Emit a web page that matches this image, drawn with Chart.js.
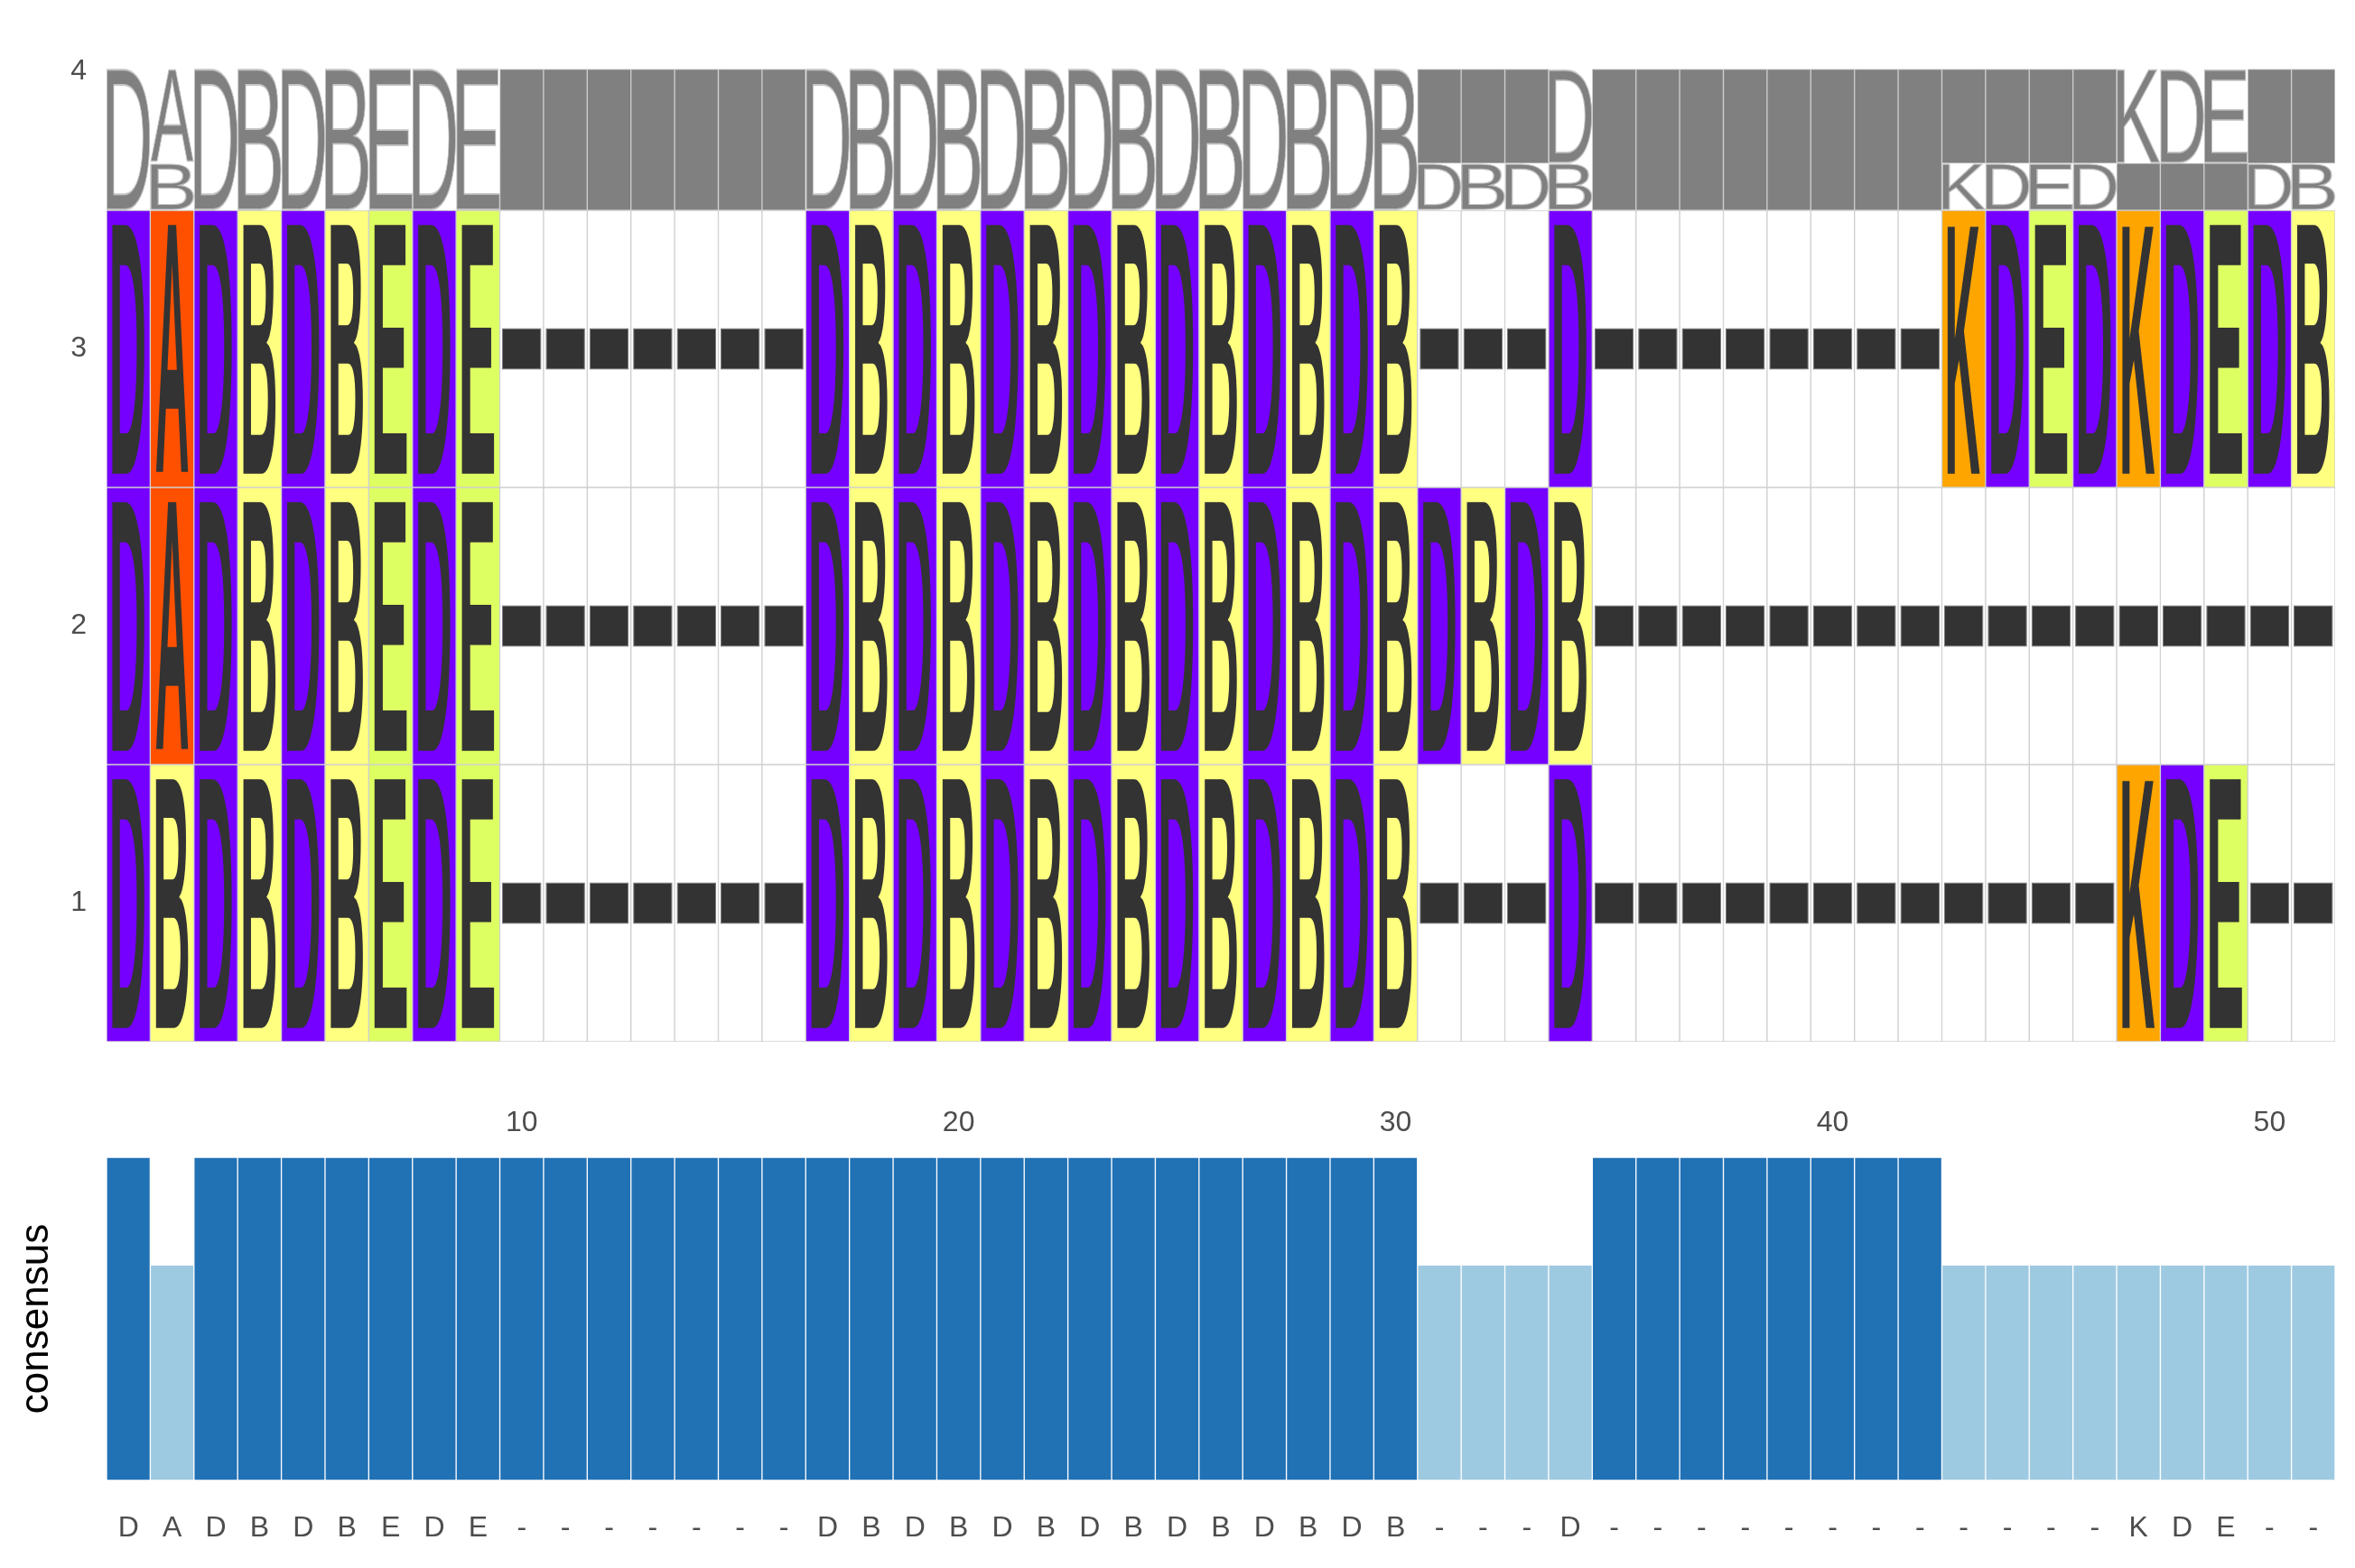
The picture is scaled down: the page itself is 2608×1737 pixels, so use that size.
<!DOCTYPE html>
<html>
<head>
<meta charset="utf-8">
<script src="https://cdn.jsdelivr.net/npm/chart.js@4.4.1/dist/chart.umd.min.js"></script>
<style>
html,body{margin:0;padding:0;background:#fff;}
#wrap{position:relative;width:2608px;height:1737px;overflow:hidden;background:#fff;}
canvas{position:absolute;left:0;}
#topChart{top:0;}
#botChart{top:1160px;}
</style>
</head>
<body>
<div id="wrap">
<canvas id="topChart" width="2608" height="1300"></canvas>
<canvas id="botChart" width="2608" height="577"></canvas>
</div>
<script>
// ---- data ----
const positions = ['1','2','3','4','5','6','7','8','9','10','11','12','13','14','15','16','17','18','19','20',
  '21','22','23','24','25','26','27','28','29','30','31','32','33','34','35','36','37','38','39','40',
  '41','42','43','44','45','46','47','48','49','50','51'];

const seqRow1 = ['D','B','D','B','D','B','E','D','E','-','-','-','-','-','-','-',
  'D','B','D','B','D','B','D','B','D','B','D','B','D','B','-','-','-','D',
  '-','-','-','-','-','-','-','-','-','-','-','-','K','D','E','-','-'];
const seqRow2 = ['D','A','D','B','D','B','E','D','E','-','-','-','-','-','-','-',
  'D','B','D','B','D','B','D','B','D','B','D','B','D','B','D','B','D','B',
  '-','-','-','-','-','-','-','-','-','-','-','-','-','-','-','-','-'];
const seqRow3 = ['D','A','D','B','D','B','E','D','E','-','-','-','-','-','-','-',
  'D','B','D','B','D','B','D','B','D','B','D','B','D','B','-','-','-','D',
  '-','-','-','-','-','-','-','-','K','D','E','D','K','D','E','D','B'];

const rowTicks = [1, 2, 3, 4];
const xTickPositions = [10, 20, 30, 40, 50];

const consensusLabels = ['D','A','D','B','D','B','E','D','E','-','-','-','-','-','-','-',
  'D','B','D','B','D','B','D','B','D','B','D','B','D','B','-','-','-','D',
  '-','-','-','-','-','-','-','-','-','-','-','-','K','D','E','-','-'];
const consensusValues = [1,0.667,1,1,1,1,1,1,1,1,1,1,1,1,1,1,1,1,1,1,1,1,1,1,1,1,1,1,1,1,
  0.667,0.667,0.667,0.667,1,1,1,1,1,1,1,1,
  0.667,0.667,0.667,0.667,0.667,0.667,0.667,0.667,0.667];

// ---- styles ----
const letterColors = {D:'#7500FF', A:'#FF5000', B:'#FFFF80', E:'#DEFF62', K:'#FFA500', '-':'#FFFFFF'};
const FONT = '"Liberation Sans", Arial, Helvetica, sans-serif';
const TEXT_GREY = '#4d4d4d';
const LOGO_H = 0.51;
const rows = [seqRow1, seqRow2, seqRow3];

Chart.defaults.font.family = FONT;
Chart.defaults.animation = false;

// logo stacks (built from the sequences)
const logoStacks = positions.map((p, i) => {
  const counts = {};
  rows.forEach(s => { counts[s[i]] = (counts[s[i]] || 0) + 1; });
  const entries = Object.entries(counts).sort((a, b) => a[1] - b[1]);
  let base = 3.5;
  return entries.map(([ch, c]) => {
    const h = LOGO_H * c / rows.length;
    const seg = {ch, lo: base, hi: base + h};
    base += h;
    return seg;
  });
});

function drawGlyph(ctx, ch, x, y, w, h, fill, stroke, weight) {
  ctx.save();
  ctx.font = (weight || '') + ' 200px ' + FONT;
  ctx.textAlign = 'left';
  ctx.textBaseline = 'alphabetic';
  const m = ctx.measureText(ch);
  const gw = m.actualBoundingBoxLeft + m.actualBoundingBoxRight;
  const gh = m.actualBoundingBoxAscent + m.actualBoundingBoxDescent;
  const sx = w / gw, sy = h / gh;
  ctx.translate(x, y);
  ctx.scale(sx, sy);
  ctx.fillStyle = fill;
  ctx.fillText(ch, m.actualBoundingBoxLeft, m.actualBoundingBoxAscent);
  if (stroke) {
    ctx.strokeStyle = stroke;
    ctx.lineWidth = 1.2 / Math.sqrt(sx * sy);
    ctx.strokeText(ch, m.actualBoundingBoxLeft, m.actualBoundingBoxAscent);
  }
  ctx.restore();
}

const glyphPlugin = {
  id: 'glyphs',
  afterDatasetsDraw(chart) {
    const ctx = chart.ctx, xs = chart.scales.x, ys = chart.scales.y;
    const colW = xs.getPixelForValue(1) - xs.getPixelForValue(0);
    rows.forEach((seq, r) => {
      const yv = r + 1;
      const yTop = ys.getPixelForValue(yv + 0.5), yBot = ys.getPixelForValue(yv - 0.5);
      const h = yBot - yTop;
      seq.forEach((ch, i) => {
        if (ch === '-') return;
        const cx = xs.getPixelForValue(i);
        drawGlyph(ctx, ch, cx - colW * 0.37, yTop + h * 0.05, colW * 0.74, h * 0.9, '#333333', null, 'bold');
      });
    });
    logoStacks.forEach((segs, i) => {
      const cx = xs.getPixelForValue(i);
      segs.forEach(s => {
        if (s.ch === '-') return;
        const yTop = ys.getPixelForValue(s.hi), yBot = ys.getPixelForValue(s.lo);
        drawGlyph(ctx, s.ch, cx - colW * 0.49, yTop + 1, colW * 0.98, yBot - yTop - 2, '#808080', '#c4c4c4');
      });
    });
  }
};

const datasets = [];
rows.forEach((seq, r) => {
  const yv = r + 1;
  datasets.push({
    label: 'cells' + yv,
    data: seq.map(() => [yv - 0.5, yv + 0.5]),
    backgroundColor: seq.map(ch => letterColors[ch]),
    borderColor: '#cfcfcf', borderWidth: 1, borderSkipped: false,
    grouped: false, barPercentage: 1, categoryPercentage: 1, order: 3
  });
  datasets.push({
    label: 'gaps' + yv,
    data: seq.map(ch => ch === '-' ? [yv - 0.075, yv + 0.075] : null),
    backgroundColor: '#333333', borderColor: '#7a7a7a', borderWidth: 1, borderSkipped: false,
    grouped: false, barPercentage: 0.9, categoryPercentage: 1, order: 1
  });
});
datasets.push({
  label: 'logoGaps',
  data: logoStacks.map(segs => { const g = segs.find(s => s.ch === '-'); return g ? [g.lo, g.hi] : null; }),
  backgroundColor: '#808080', borderColor: '#cccccc', borderWidth: 1, borderSkipped: false,
  grouped: false, barPercentage: 1, categoryPercentage: 1, order: 2
});

new Chart(document.getElementById('topChart'), {
  type: 'bar',
  data: {labels: positions, datasets},
  options: {
    responsive: false, animation: false,
    layout: {padding: {left: 0, right: 22, top: 73.4, bottom: 0}},
    plugins: {legend: {display: false}, tooltip: {enabled: false}},
    scales: {
      x: {
        type: 'category', offset: true,
        grid: {display: false, drawTicks: false}, border: {display: false},
        ticks: {
          autoSkip: false, maxRotation: 0, padding: 0,
          color: TEXT_GREY, font: {size: 32, lineHeight: '180px'},
          callback: (v, idx) => xTickPositions.includes(idx + 1) ? String(idx + 1) : ''
        },
        afterFit: s => { s.height = 146; }
      },
      y: {
        type: 'linear', min: 0.5, max: 4.02,
        grid: {display: false, drawTicks: false}, border: {display: false},
        afterBuildTicks: s => { s.ticks = rowTicks.map(v => ({value: v})); },
        ticks: {color: TEXT_GREY, font: {size: 32}, padding: 22},
        afterFit: s => { s.width = 118; }
      }
    }
  },
  plugins: [glyphPlugin]
});

new Chart(document.getElementById('botChart'), {
  type: 'bar',
  data: {
    labels: consensusLabels,
    datasets: [{
      label: 'consensus',
      data: consensusValues,
      backgroundColor: consensusValues.map(v => v >= 0.99 ? '#2171B5' : '#9ECAE1'),
      borderColor: 'rgba(255,255,255,0.1)', borderWidth: 1, borderSkipped: false,
      barPercentage: 1, categoryPercentage: 1
    }]
  },
  options: {
    responsive: false, animation: false,
    layout: {padding: {left: 0, right: 22, top: 122, bottom: 0}},
    plugins: {legend: {display: false}, tooltip: {enabled: false}},
    scales: {
      x: {
        type: 'category', offset: true,
        grid: {display: false, drawTicks: false}, border: {display: false},
        ticks: {autoSkip: false, maxRotation: 0, padding: 0, color: TEXT_GREY, font: {size: 32, lineHeight: '106px'}},
        afterFit: s => { s.height = 97; }
      },
      y: {
        type: 'linear', min: 0, max: 1,
        grid: {display: false, drawTicks: false}, border: {display: false},
        ticks: {display: false},
        title: {display: true, text: 'consensus', color: '#000000', font: {size: 44}, padding: {top: 14, bottom: 0}},
        afterFit: s => { s.width = 118; }
      }
    }
  }
});
</script>
</body>
</html>
